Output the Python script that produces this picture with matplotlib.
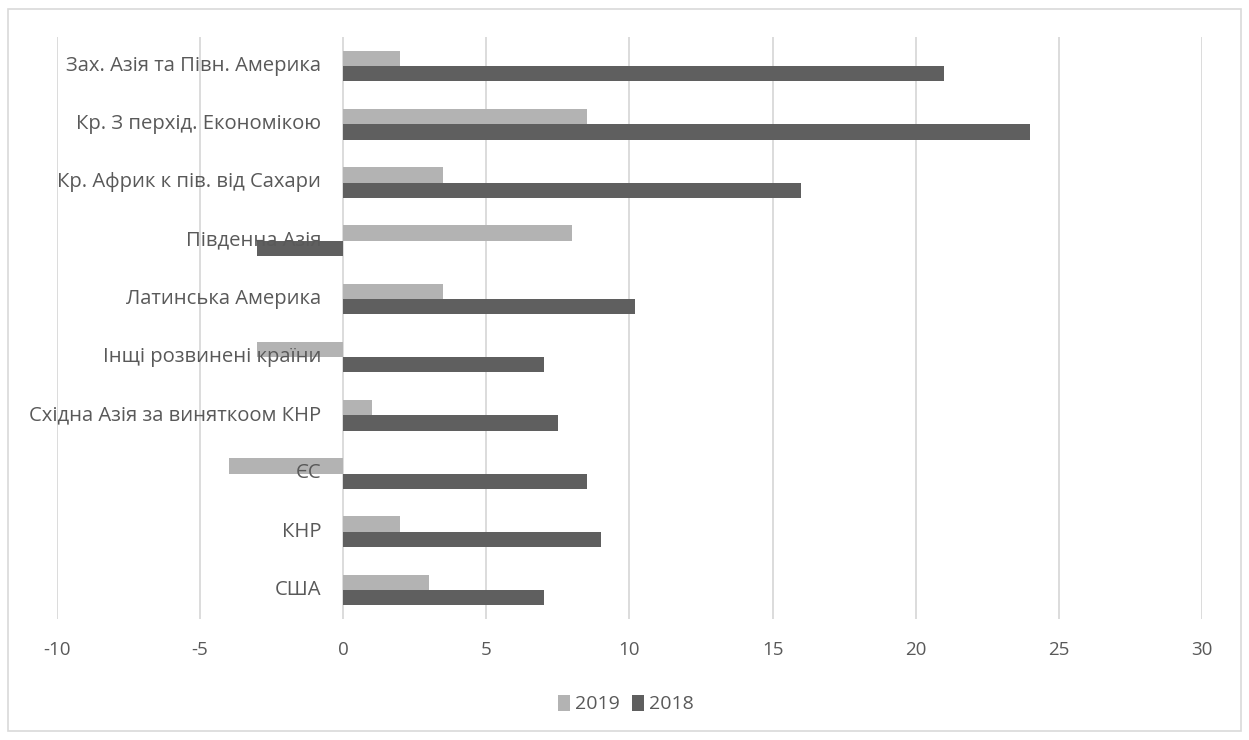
import matplotlib
matplotlib.use("Agg")
import matplotlib.pyplot as plt
import numpy as np
from matplotlib.patches import Rectangle
import matplotlib.transforms as mtransforms

# Regions, listed from the bottom of the chart upward
regions = [
    "США",
    "КНР",
    "ЄС",
    "Східна Азія за виняткоом КНР",
    "Інщі розвинені країни",
    "Латинська Америка",
    "Південна Азія",
    "Кр. Африк к пів. від Сахари",
    "Кр. З перхід. Економікою",
    "Зах. Азія та Півн. Америка",
]
values_2019 = [3, 2, -4, 1, -3, 3.5, 8, 3.5, 8.5, 2]
values_2018 = [7, 9, 8.5, 7.5, 7, 10.2, -3, 16, 24, 21]
x_ticks = [-10, -5, 0, 5, 10, 15, 20, 25, 30]

plt.rcParams["font.family"] = ["Open Sans", "DejaVu Sans"]
text_color = "#595959"
light = "#b3b3b3"
dark = "#5f5f5f"
grid_color = "#d9d9d9"

W, H = 1249, 740
fig = plt.figure(figsize=(W / 100, H / 100), dpi=100)
fig.patch.set_facecolor("white")

# outer chart frame
fig.patches.append(Rectangle((8 / W, 9 / H), (1241 - 8) / W, (731 - 9) / H,
                             transform=fig.transFigure, fill=False,
                             edgecolor="#d9d9d9", linewidth=1.2))

left, right = 57 / W, 1202 / W
top, bottom = 1 - 37 / H, 1 - 619 / H
ax = fig.add_axes([left, bottom, right - left, top - bottom])

y = np.arange(len(regions))
h = 0.263
ax.barh(y + h / 2, values_2019, height=h, color=light, label="2019", zorder=2)
ax.barh(y - h / 2, values_2018, height=h, color=dark, label="2018", zorder=2)

ax.set_xlim(x_ticks[0], x_ticks[-1])
ax.set_ylim(-0.5, len(regions) - 0.5)
ax.set_xticks(x_ticks)
ax.set_xticklabels([str(v) for v in x_ticks])
ax.tick_params(axis="x", length=0, pad=16, labelsize=13.5, labelcolor=text_color)
ax.set_yticks([])
ax.grid(axis="x", color=grid_color, linewidth=1.3, zorder=0)
ax.set_axisbelow(True)
for s in ax.spines.values():
    s.set_visible(False)

# category labels sit inside the plot, just left of the zero line
offset = mtransforms.offset_copy(ax.transData, fig=fig, x=-22, y=0, units="dots")
for yi, name in zip(y, regions):
    ax.text(0, yi, name, transform=offset, ha="right", va="center",
            fontsize=14.6, color=text_color, zorder=5)

handles, labels = ax.get_legend_handles_labels()
leg = fig.legend(handles, labels, loc="center", bbox_to_anchor=(626 / W, 1 - 704 / H),
                 ncol=2, frameon=False, fontsize=14, handlelength=0.6,
                 handleheight=0.9, handletextpad=0.3, columnspacing=0.6)
for t in leg.get_texts():
    t.set_color(text_color)

fig.savefig("out.png", dpi=100)
